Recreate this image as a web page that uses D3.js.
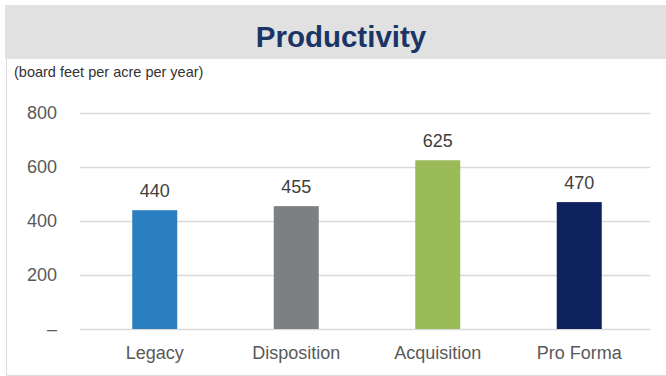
<!DOCTYPE html>
<html>
<head>
<meta charset="utf-8">
<script src="https://cdn.jsdelivr.net/npm/d3@7"></script>
<style>
  html, body { margin: 0; padding: 0; background: #ffffff; }
  svg { display: block; font-family: "Liberation Sans", Arial, Helvetica, sans-serif; }
</style>
</head>
<body>
<svg id="chart" width="666" height="376"></svg>
<script>
// Productivity by portfolio, board feet per acre per year
const categories = ["Legacy", "Disposition", "Acquisition", "Pro Forma"];
const values = [440, 455, 625, 470];
const barColors = ["#2a7fc0", "#7e7f83", "#9bbb59", "#0e2260"];
const tickValues = [0, 200, 400, 600, 800];
const tickLabels = ["–", "200", "400", "600", "800"];

const svg = d3.select("#chart");
const W = 666, H = 376;

// Header band
svg.append("rect")
  .attr("x", 5).attr("y", 5)
  .attr("width", W - 5).attr("height", 54)
  .attr("fill", "#e1e1e1");

svg.append("text")
  .attr("x", 341).attr("y", 46.5)
  .attr("text-anchor", "middle")
  .attr("font-size", 29.5)
  .attr("font-weight", "bold")
  .attr("fill", "#1a3565")
  .text("Productivity");

// Frame around the chart body
svg.append("path")
  .attr("d", `M6.5,59 V375.5 H${W}`)
  .attr("fill", "none")
  .attr("stroke", "#dcdcdc")
  .attr("stroke-width", 1);

svg.append("text")
  .attr("x", 14).attr("y", 77)
  .attr("font-size", 14.5)
  .attr("fill", "#333333")
  .text("(board feet per acre per year)");

// Scales
const x = d3.scaleBand()
  .domain(categories)
  .range([84, 650])
  .paddingInner(0.682)
  .paddingOuter(0.341);

const y = d3.scaleLinear()
  .domain([0, 800])
  .range([329, 113]);

// Gridlines and value axis
const yAxis = d3.axisLeft(y)
  .tickValues(tickValues)
  .tickSize(570)
  .tickPadding(23)
  .tickFormat((d, i) => tickLabels[i]);

const gy = svg.append("g")
  .attr("transform", "translate(650,0)")
  .call(yAxis);
gy.select(".domain").remove();
gy.selectAll(".tick line")
  .attr("stroke", "#d9d9d9")
  .attr("stroke-width", 1.6);
gy.selectAll(".tick text")
  .attr("font-size", 18)
  .attr("fill", "#595959")
  .attr("font-family", "\"Liberation Sans\", Arial, Helvetica, sans-serif");

// Bars
const data = categories.map((c, i) => ({ c, v: values[i], color: barColors[i] }));

svg.append("g")
  .selectAll("rect")
  .data(data)
  .join("rect")
  .attr("x", d => x(d.c))
  .attr("y", d => y(d.v))
  .attr("width", x.bandwidth())
  .attr("height", d => y(0) - y(d.v))
  .attr("fill", d => d.color);

// Value labels
svg.append("g")
  .selectAll("text")
  .data(data)
  .join("text")
  .attr("x", d => x(d.c) + x.bandwidth() / 2)
  .attr("y", d => y(d.v) - 13)
  .attr("text-anchor", "middle")
  .attr("font-size", 18)
  .attr("fill", "#404040")
  .text(d => d.v);

// Category labels
const xAxis = d3.axisBottom(x).tickSize(0).tickPadding(0);
const gx = svg.append("g")
  .attr("transform", "translate(0,329)")
  .call(xAxis);
gx.select(".domain").remove();
gx.selectAll(".tick text")
  .attr("dy", null)
  .attr("y", 30)
  .attr("font-size", 18)
  .attr("fill", "#595959")
  .attr("font-family", "\"Liberation Sans\", Arial, Helvetica, sans-serif");
</script>
</body>
</html>
